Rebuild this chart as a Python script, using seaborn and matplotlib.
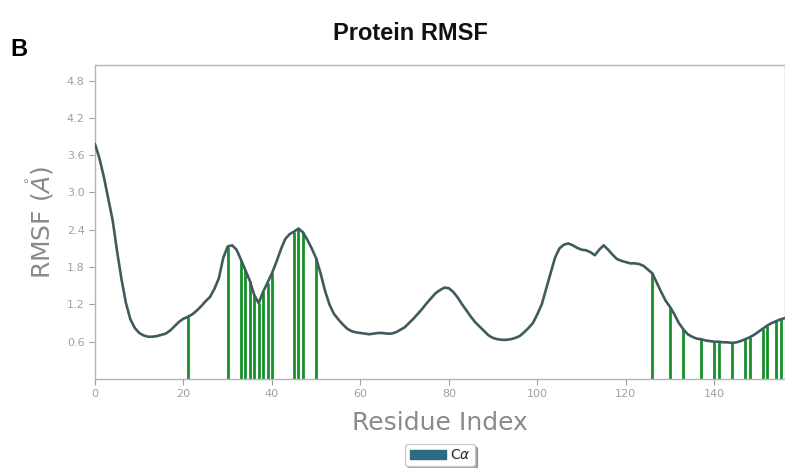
import matplotlib
matplotlib.use("Agg")
import matplotlib.pyplot as plt
import matplotlib.patches as mpatches
import seaborn as sns
import pandas as pd
import numpy as np

# ---- data ----
residues = list(range(0, 157))
rmsf = [
    3.78, 3.55, 3.25, 2.90, 2.55, 2.05, 1.60, 1.22, 0.96, 0.82,   # 0-9
    0.74, 0.70, 0.68, 0.68, 0.69, 0.71, 0.73, 0.78, 0.85, 0.92,   # 10-19
    0.97, 1.00, 1.04, 1.10, 1.17, 1.25, 1.32, 1.45, 1.62, 1.95,   # 20-29
    2.13, 2.15, 2.08, 1.92, 1.75, 1.58, 1.35, 1.22, 1.40, 1.55,   # 30-39
    1.70, 1.88, 2.08, 2.25, 2.33, 2.37, 2.42, 2.36, 2.24, 2.10,   # 40-49
    1.94, 1.70, 1.42, 1.20, 1.05, 0.96, 0.88, 0.81, 0.77, 0.75,   # 50-59
    0.74, 0.73, 0.72, 0.73, 0.74, 0.74, 0.73, 0.73, 0.75, 0.79,   # 60-69
    0.83, 0.90, 0.97, 1.05, 1.13, 1.22, 1.30, 1.38, 1.43, 1.47,   # 70-79
    1.46, 1.40, 1.31, 1.20, 1.10, 1.00, 0.91, 0.84, 0.77, 0.70,   # 80-89
    0.66, 0.64, 0.63, 0.63, 0.64, 0.66, 0.69, 0.75, 0.82, 0.90,   # 90-99
    1.04, 1.20, 1.45, 1.70, 1.95, 2.10, 2.16, 2.18, 2.15, 2.11,   # 100-109
    2.08, 2.07, 2.04, 1.99, 2.08, 2.15, 2.08, 2.00, 1.93, 1.90,   # 110-119
    1.88, 1.86, 1.86, 1.85, 1.82, 1.76, 1.70, 1.55, 1.40, 1.26,   # 120-129
    1.16, 1.04, 0.90, 0.80, 0.72, 0.68, 0.65, 0.64, 0.62, 0.61,   # 130-139
    0.60, 0.60, 0.59, 0.59, 0.58, 0.59, 0.61, 0.64, 0.67, 0.71,   # 140-149
    0.76, 0.81, 0.86, 0.90, 0.93, 0.96, 0.98,                     # 150-156
]
contact_residues = [21, 30, 33, 34, 35, 36, 37, 38, 39, 40, 45, 46, 47, 50,
                    126, 130, 133, 137, 140, 141, 144, 147, 148, 151, 152, 154, 155]
xticks = [0, 20, 40, 60, 80, 100, 120, 140]
yticks = [0.6, 1.2, 1.8, 2.4, 3.0, 3.6, 4.2, 4.8]

df = pd.DataFrame({"Residue": residues, "RMSF": rmsf})
stem_heights = [rmsf[r] for r in contact_residues]

sns.set_style("white")
plt.rcParams['font.family'] = ['DejaVu Sans']

fig = plt.figure(figsize=(7.85, 4.68), dpi=100)
ax = fig.add_axes([95/785, 1 - 379/468, 1 - 95/785, (379 - 65)/468])

line_color = "#3f5b5e"
ax.vlines(contact_residues, 0, stem_heights, colors="#16902a", linewidth=2.0, zorder=2)
sns.lineplot(data=df, x="Residue", y="RMSF", ax=ax, color=line_color,
             linewidth=1.9, zorder=3)

ax.set_xlim(0, 156)
ax.set_ylim(0, 5.05)
ax.set_xticks(xticks)
ax.set_yticks(yticks)
ax.set_yticklabels([f"{t:.1f}" for t in yticks])
ax.tick_params(axis="both", which="both", direction="out", length=4, width=0.8,
               colors="#a0a0a0", labelsize=8, bottom=True, left=True)
for s in ax.spines.values():
    s.set_color("#b5b5b5")
    s.set_linewidth(1.0)

ax.set_xlabel("Residue Index", fontsize=18, color="#8a8a8a", labelpad=8)
ax.set_ylabel(r"RMSF ($\mathring{A}$)", fontsize=18, color="#8a8a8a", labelpad=8)

fig.text(410/785, 1 - 33/468, "Protein RMSF", ha="center", va="center",
         fontsize=17, fontweight="bold", family="Liberation Sans", color="#111111")
fig.text(10/785, 1 - 50/468, "B", ha="left", va="center",
         fontsize=17, fontweight="bold", family="Liberation Sans", color="#000000")

handle = mpatches.Patch(color="#2d6a84", label=r"C$\alpha$")
leg = fig.legend(handles=[handle], loc="center",
                 bbox_to_anchor=(440/785, 1 - 455/468), frameon=True,
                 fancybox=True, shadow=True, fontsize=10, handlelength=2.6,
                 handleheight=0.6, handletextpad=0.3, borderpad=0.3,
                 borderaxespad=0)
leg.get_frame().set_edgecolor("#cccccc")

fig.savefig("out.png", dpi=100)
